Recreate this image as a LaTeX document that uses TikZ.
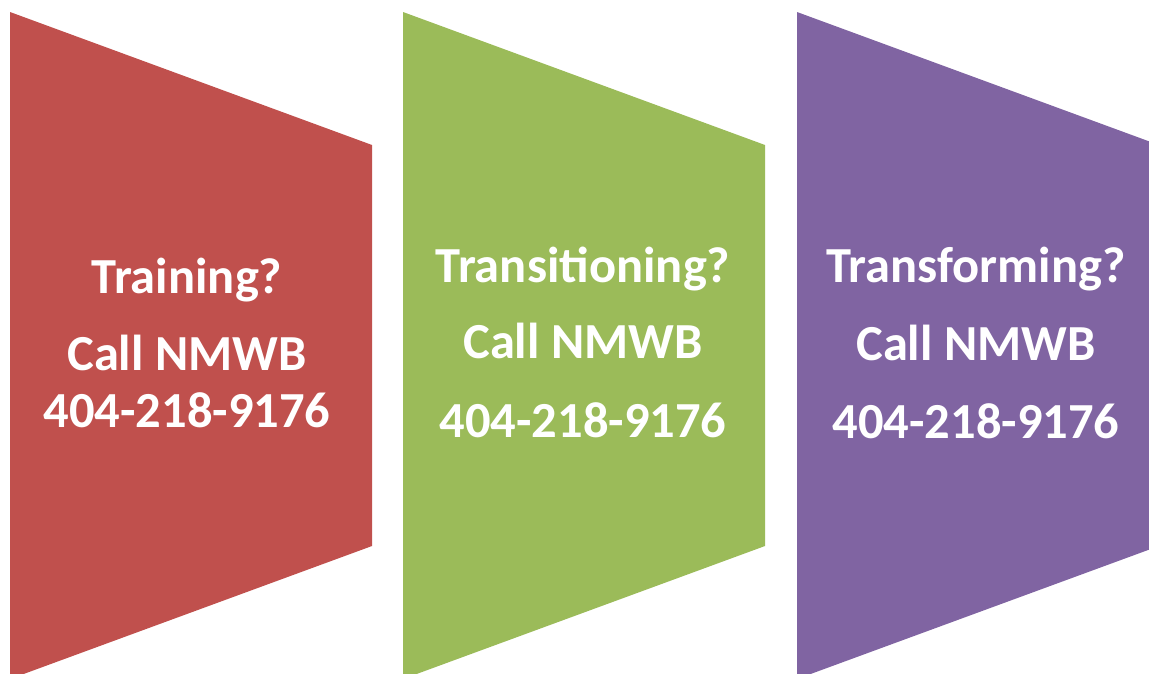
\documentclass[tikz,border=0pt]{standalone}
\usepackage{fontspec}
\setmainfont{Carlito}
\definecolor{cred}{HTML}{C0504D}
\definecolor{cgreen}{HTML}{9BBB59}
\definecolor{cpurple}{HTML}{8064A2}
\begin{document}
\begin{tikzpicture}[x=1pt,y=-1pt,
  lbl/.style={text=white,anchor=base,inner sep=0pt,font=\bfseries\fontsize{50.5}{60}\selectfont}]
\useasboundingbox (0,0) rectangle (1149,673);
\fill[cred] (10,12) -- (372,145) -- (372,546) -- (10,679) -- cycle;
\fill[cgreen] (403,12) -- (765,145) -- (765,546) -- (403,679) -- cycle;
\begin{scope}
\clip (0,0) rectangle (1149,673);
\fill[cpurple] (797,12) -- (1159,145) -- (1159,546) -- (797,679) -- cycle;
\end{scope}
\node[lbl] (r1) at (187,293) {Training?};
\node[lbl] (r2) at (187,370) {Call NMWB};
\node[lbl] (r3) at (187,427) {404-218-9176};
\node[lbl] (g1) at (583,282) {Transitioning?};
\node[lbl] (g2) at (583,358) {Call NMWB};
\node[lbl] (g3) at (583,437) {404-218-9176};
\node[lbl] (p1) at (976,282) {Transforming?};
\node[lbl] (p2) at (976,360) {Call NMWB};
\node[lbl] (p3) at (976,438) {404-218-9176};
\end{tikzpicture}
\end{document}
